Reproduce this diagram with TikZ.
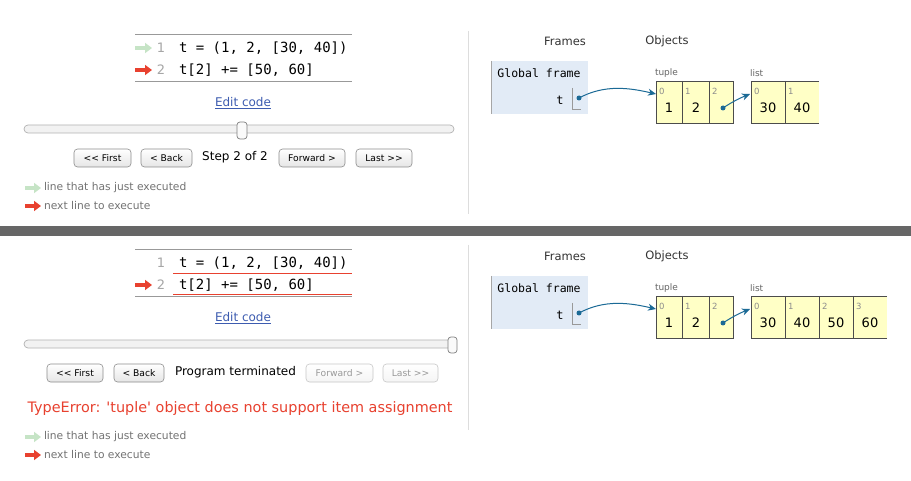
\documentclass[tikz,border=0pt]{standalone}
\usepackage{fontspec}
\setmainfont{DejaVu Sans}
\newfontfamily\codefont{DejaVu Sans Mono}
\usetikzlibrary{arrows.meta}
\definecolor{greenarr}{HTML}{C6E4C6}
\definecolor{redarr}{HTML}{E8412F}
\definecolor{linkblue}{HTML}{3D5CB0}
\definecolor{framebg}{HTML}{E2EBF6}
\definecolor{heapbg}{HTML}{FFFFC6}
\definecolor{ptrcol}{HTML}{1B6A96}
\definecolor{sepgray}{HTML}{DDDDDD}
\definecolor{bandgray}{HTML}{666666}
\newcommand{\fs}[1]{\fontsize{#1}{#1}\selectfont}
\newcommand{\lt}{{<}}
\newcommand{\gt}{{>}}
\tikzset{
  x=1pt, y=-1pt,
  every node/.style={inner sep=0pt, outer sep=0pt},
  pyarrow/.style={line width=4pt, -{Triangle[length=7pt,width=10pt]}},
  codetxt/.style={anchor=west, font=\codefont\fs{14}},
  lineno/.style={text=black!35, font=\fs{13}},
  btn/.style={draw=black!45, rounded corners=3.5pt, top color=white, bottom color=black!10,
    minimum height=18pt, font=\fs{9.2}, line width=0.6pt},
  btnoff/.style={btn, draw=black!22, text=black!40, top color=white, bottom color=black!4},
  legendtxt/.style={anchor=west, text=black!55, font=\fs{10.7}},
  steptxt/.style={font=\fs{12}},
  hdr/.style={text=black!80, font=\fs{11.5}},
  heaplbl/.style={anchor=west, text=black!60, font=\fs{9}},
  idx/.style={anchor=west, text=black!45, font=\fs{8.5}},
  val/.style={font=\fs{13}},
  heapline/.style={draw=black!70, line width=0.8pt},
  ptr/.style={draw=ptrcol, line width=1pt, -{Stealth[length=8pt,width=7pt,inset=2.5pt]}},
  dot/.style={circle, fill=ptrcol, minimum size=5pt},
  codeline/.style={draw=black!40, line width=0.8pt},
  errline/.style={draw=redarr, line width=1pt},
  sep/.style={draw=sepgray, line width=1pt},
}
\begin{document}
\begin{tikzpicture}
\useasboundingbox (0,0) rectangle (911,481);
\fill[white] (0,0) rectangle (911,481);
% dark band
\fill[bandgray] (0,226) rectangle (911,236);
% separators
\draw[sep] (468,31) -- (468,214);
\draw[sep] (468,245) -- (468,430);

%================ TOP PANEL =================
\draw[codeline] (135,34) -- (352,34);
\draw[codeline] (135,81) -- (352,81);
\coordinate (ga1s) at (135,48); \coordinate (ga1e) at (152,48);
\draw[pyarrow, greenarr] (ga1s) -- (ga1e);
\coordinate (ra1s) at (135,70); \coordinate (ra1e) at (152,70);
\draw[pyarrow, redarr] (ra1s) -- (ra1e);
\node[lineno] (n1a) at (161,48) {1};
\node[lineno] (n2a) at (161,70) {2};
\node[codetxt] (c1a) at (179,48) {t = (1, 2, [30, 40])};
\node[codetxt] (c2a) at (179,70) {t[2] += [50, 60]};
\node[font=\fs{12}, text=linkblue] (edita) at (243,103) {\underline{Edit code}};
% slider
\draw[draw=black!30, fill=black!5, rounded corners=4pt, line width=0.7pt] (24,125) rectangle (454,133);
\draw[draw=black!50, fill=black!2, rounded corners=3pt, line width=0.7pt] (237,122) rectangle (247,139);
% buttons
\node[btn, minimum width=57pt] (firsta) at (102.5,158) {\lt\lt{} First};
\node[btn, minimum width=51pt] (backa) at (166.5,158) {\lt{} Back};
\node[steptxt] (stepa) at (235,157) {Step 2 of 2};
\node[btn, minimum width=66pt] (fwda) at (312,158) {Forward \gt};
\node[btn, minimum width=56pt] (lasta) at (384,158) {Last \gt\gt};
% legend
\coordinate (lg1s) at (25,188); \coordinate (lg1e) at (41,188);
\draw[pyarrow, greenarr] (lg1s) -- (lg1e);
\node[legendtxt] (lt1a) at (44,188) {line that has just executed};
\coordinate (lr1s) at (25,206); \coordinate (lr1e) at (41,206);
\draw[pyarrow, redarr] (lr1s) -- (lr1e);
\node[legendtxt] (lt2a) at (44,206) {next line to execute};

% right
\node[hdr] (framesa) at (565,41) {Frames};
\node[hdr] (objectsa) at (667,41) {Objects};
\fill[framebg] (491,61) rectangle (588,114);
\draw[draw=black!35, line width=1.5pt] (491.5,61) -- (491.5,114);
\node[font=\codefont\fs{11.5}] (gfa) at (539,73) {Global frame};
\node[font=\codefont\fs{12}] (ta) at (560,100) {t};
\draw[draw=black!40, line width=0.7pt] (572,88) -- (572,109) -- (581,109);
\node[dot] (tdota) at (579,98) {};
% tuple
\node[heaplbl] (tuplea) at (655,73) {tuple};
\fill[heapbg] (656,81) rectangle (733,123);
\draw[heapline] (656,81) rectangle (733,123);
\draw[heapline] (682.5,81) -- (682.5,123);
\draw[heapline] (709,81) -- (709,123);
\node[idx] (ti0a) at (659,91) {0};
\node[idx] (ti1a) at (685,91) {1};
\node[idx] (ti2a) at (712,91) {2};
\node[val] (tv0a) at (669,108) {1};
\node[val] (tv1a) at (696,108) {2};
\node[dot] (tcdota) at (723,108) {};
\coordinate (tupina) at (656,94);
% list
\node[heaplbl] (lista) at (750,73) {list};
\fill[heapbg] (751,81) rectangle (819,123);
\draw[heapline] (819,81) -- (751,81) -- (751,123) -- (819,123);
\draw[heapline] (785,81) -- (785,123);
\node[idx] (li0a) at (754,91) {0};
\node[idx] (li1a) at (788,91) {1};
\node[val] (lv0a) at (768,108) {30};
\node[val] (lv1a) at (802,108) {40};
\coordinate (listina) at (750,94);
% pointers
\draw[ptr] (tdota.center) .. controls (605,84) and (630,88) .. (tupina);
\draw[ptr] (tcdota.center) .. controls (732,102) and (740,98) .. (listina);

%================ BOTTOM PANEL =================
\draw[codeline] (135,249) -- (352,249);
\draw[errline] (173,274) -- (352,274);
\draw[codeline] (135,296.5) -- (352,296.5);
\draw[errline] (173,294.5) -- (352,294.5);
\coordinate (rb1s) at (135,285); \coordinate (rb1e) at (152,285);
\draw[pyarrow, redarr] (rb1s) -- (rb1e);
\node[lineno] (n1b) at (161,263) {1};
\node[lineno] (n2b) at (161,285) {2};
\node[codetxt] (c1b) at (179,263) {t = (1, 2, [30, 40])};
\node[codetxt] (c2b) at (179,285) {t[2] += [50, 60]};
\node[font=\fs{12}, text=linkblue] (editb) at (243,318) {\underline{Edit code}};
% slider
\draw[draw=black!30, fill=black!5, rounded corners=4pt, line width=0.7pt] (24,340) rectangle (454,348);
\draw[draw=black!50, fill=black!2, rounded corners=3pt, line width=0.7pt] (448,337) rectangle (457,353);
% buttons
\node[btn, minimum width=56pt] (firstb) at (75,373) {\lt\lt{} First};
\node[btn, minimum width=50pt] (backb) at (139,373) {\lt{} Back};
\node[steptxt] (stepb) at (235.5,372) {Program terminated};
\node[btnoff, minimum width=67pt] (fwdb) at (339.5,373) {Forward \gt};
\node[btnoff, minimum width=55pt] (lastb) at (410.5,373) {Last \gt\gt};
% error
\node[text=redarr, font=\fs{14.4}] (errb) at (240,409) {TypeError: \textquotesingle tuple\textquotesingle{} object does not support item assignment};
% legend
\coordinate (lg2s) at (25,437); \coordinate (lg2e) at (41,437);
\draw[pyarrow, greenarr] (lg2s) -- (lg2e);
\node[legendtxt] (lt1b) at (44,437) {line that has just executed};
\coordinate (lr2s) at (25,455); \coordinate (lr2e) at (41,455);
\draw[pyarrow, redarr] (lr2s) -- (lr2e);
\node[legendtxt] (lt2b) at (44,455) {next line to execute};

% right
\node[hdr] (framesb) at (565,256) {Frames};
\node[hdr] (objectsb) at (667,256) {Objects};
\fill[framebg] (491,276) rectangle (588,329);
\draw[draw=black!35, line width=1.5pt] (491.5,276) -- (491.5,329);
\node[font=\codefont\fs{11.5}] (gfb) at (539,288) {Global frame};
\node[font=\codefont\fs{12}] (tb) at (560,315) {t};
\draw[draw=black!40, line width=0.7pt] (572,303) -- (572,324) -- (581,324);
\node[dot] (tdotb) at (579,313) {};
% tuple
\node[heaplbl] (tupleb) at (655,288) {tuple};
\fill[heapbg] (656,296) rectangle (733,338);
\draw[heapline] (656,296) rectangle (733,338);
\draw[heapline] (682.5,296) -- (682.5,338);
\draw[heapline] (709,296) -- (709,338);
\node[idx] (ti0b) at (659,306) {0};
\node[idx] (ti1b) at (685,306) {1};
\node[idx] (ti2b) at (712,306) {2};
\node[val] (tv0b) at (669,323) {1};
\node[val] (tv1b) at (696,323) {2};
\node[dot] (tcdotb) at (723,323) {};
\coordinate (tupinb) at (656,309);
% list
\node[heaplbl] (listb) at (750,288) {list};
\fill[heapbg] (751,296) rectangle (887,338);
\draw[heapline] (887,296) -- (751,296) -- (751,338) -- (887,338);
\draw[heapline] (785,296) -- (785,338);
\draw[heapline] (819,296) -- (819,338);
\draw[heapline] (853,296) -- (853,338);
\node[idx] (li0b) at (754,306) {0};
\node[idx] (li1b) at (788,306) {1};
\node[idx] (li2b) at (822,306) {2};
\node[idx] (li3b) at (856,306) {3};
\node[val] (lv0b) at (768,323) {30};
\node[val] (lv1b) at (802,323) {40};
\node[val] (lv2b) at (836,323) {50};
\node[val] (lv3b) at (870,323) {60};
\coordinate (listinb) at (750,309);
% pointers
\draw[ptr] (tdotb.center) .. controls (605,299) and (630,303) .. (tupinb);
\draw[ptr] (tcdotb.center) .. controls (732,317) and (740,313) .. (listinb);
\end{tikzpicture}
\end{document}
